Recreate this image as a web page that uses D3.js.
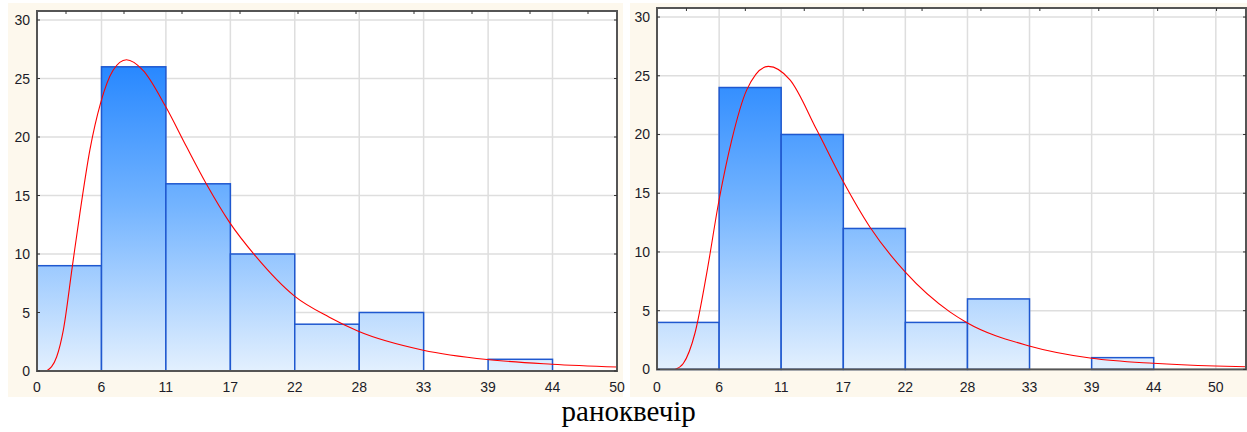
<!DOCTYPE html>
<html>
<head>
<meta charset="utf-8">
<script src="https://cdn.jsdelivr.net/npm/d3@7"></script>
<style>
  body { margin: 0; background: #fff; }
  svg { display: block; }
</style>
</head>
<body>
<svg id="chart" width="1247" height="432"></svg>
<script>
// bin edges (9 equal bins over 0..50) and their printed labels
var binEdges = [0, 5.56, 11.11, 16.67, 22.22, 27.78, 33.33, 38.89, 44.44, 50];
var edgeLabels = ["0", "6", "11", "17", "22", "28", "33", "39", "44", "50"];
var yTicks = [0, 5, 10, 15, 20, 25, 30];

// counts per bin
var morningCounts = [9, 26, 16, 10, 4, 5, 0, 1, 0];
var eveningCounts = [4, 24, 20, 12, 4, 6, 0, 1, 0];

// fitted curve as [x, y]
var morningCurve = [[0.83, 0], [1.69, 1.2], [2.27, 3.5], [3.04, 8.9], [3.7, 13.5], [4.56, 18.9],
  [5.48, 22.9], [6.56, 25.7], [7.71, 26.6], [9.14, 25.7], [11.09, 22.6], [12.87, 19.2],
  [14.59, 16.0], [16.6, 12.7], [18.9, 9.75], [22.2, 6.4], [25.2, 4.6], [27.7, 3.4],
  [33.3, 1.78], [38.8, 0.98], [44.4, 0.58], [50, 0.34]];
var eveningCurve = [[1.61, 0], [2.35, 0.5], [3.4, 3.1], [4.45, 8.2], [5.55, 14.4], [6.68, 19.5],
  [8.03, 23.8], [9.96, 25.8], [11.9, 24.65], [14.29, 20.4], [16.6, 16.1], [19.06, 12.1],
  [22.2, 8.3], [26.2, 4.9], [27.7, 4.0], [33.3, 2.0], [38.9, 0.95],
  [44.4, 0.52], [49.95, 0.29], [52.8, 0.23]];

var captionLeft = "ранок";
var captionRight = "вечір";

var svg = d3.select("#chart");
var defs = svg.append("defs");

function drawPanel(id, box, counts, curve) {
    var x = d3.scaleLinear().domain([0, box.xmax]).range([box.left, box.right]);
    var y = d3.scaleLinear().domain([0, 30.77]).range([box.bottom, box.top]);

    // cream background
    svg.append("rect")
        .attr("x", box.bgx).attr("y", 3)
        .attr("width", box.bgw).attr("height", 394)
        .attr("fill", "#fdf8ed");

    svg.append("rect")
        .attr("x", box.left).attr("y", box.top)
        .attr("width", box.right - box.left).attr("height", box.bottom - box.top)
        .attr("fill", "#fff");

    var grad = defs.append("linearGradient")
        .attr("id", "grad" + id)
        .attr("gradientUnits", "userSpaceOnUse")
        .attr("x1", 0).attr("x2", 0)
        .attr("y1", y(26)).attr("y2", y(0));
    grad.append("stop").attr("offset", 0).attr("stop-color", "#2888ff");
    grad.append("stop").attr("offset", 0.45).attr("stop-color", "#72b3ff");
    grad.append("stop").attr("offset", 1).attr("stop-color", "#e3f0fe");

    var clip = defs.append("clipPath").attr("id", "clip" + id);
    clip.append("rect")
        .attr("x", box.left).attr("y", box.top)
        .attr("width", box.right - box.left).attr("height", box.bottom - box.top);

    var g = svg.append("g");

    // grid
    g.selectAll(".hg").data(yTicks.slice(1)).enter().append("line")
        .attr("x1", box.left).attr("x2", box.right)
        .attr("y1", function(d) { return y(d); }).attr("y2", function(d) { return y(d); })
        .attr("stroke", "#dedede").attr("stroke-width", 1.5);
    g.selectAll(".vg").data(binEdges.slice(1)).enter().append("line")
        .attr("x1", function(d) { return x(d); }).attr("x2", function(d) { return x(d); })
        .attr("y1", box.top).attr("y2", box.bottom)
        .attr("stroke", "#dedede").attr("stroke-width", 1.5);

    // bars
    var bars = counts.map(function(c, i) { return {x0: binEdges[i], x1: binEdges[i + 1], n: c}; })
        .filter(function(d) { return d.n > 0; });
    g.selectAll(".bar").data(bars).enter().append("rect")
        .attr("x", function(d) { return x(d.x0); })
        .attr("width", function(d) { return x(d.x1) - x(d.x0); })
        .attr("y", function(d) { return y(d.n); })
        .attr("height", function(d) { return y(0) - y(d.n); })
        .attr("fill", "url(#grad" + id + ")")
        .attr("stroke", "#1f58cf").attr("stroke-width", 1.5);

    // fitted curve
    var line = d3.line()
        .x(function(d) { return x(d[0]); })
        .y(function(d) { return y(d[1]); })
        .curve(d3.curveMonotoneX);
    g.append("path")
        .datum(curve)
        .attr("clip-path", "url(#clip" + id + ")")
        .attr("d", line)
        .attr("fill", "none")
        .attr("stroke", "#ff0000").attr("stroke-width", 1.1);

    // frame
    g.append("rect")
        .attr("x", box.left).attr("y", box.top)
        .attr("width", box.right - box.left).attr("height", box.bottom - box.top)
        .attr("fill", "none").attr("stroke", "#555").attr("stroke-width", 2);

    // little inward ticks
    g.selectAll(".lt").data(yTicks).enter().append("line")
        .attr("x1", box.left).attr("x2", box.left + 3)
        .attr("y1", function(d) { return y(d); }).attr("y2", function(d) { return y(d); })
        .attr("stroke", "#333");
    g.selectAll(".rt").data(yTicks).enter().append("line")
        .attr("x1", box.right - 3).attr("x2", box.right)
        .attr("y1", function(d) { return y(d); }).attr("y2", function(d) { return y(d); })
        .attr("stroke", "#333");
    var topScale = d3.scaleLinear().domain([0, 10]).range([box.left, box.right]);
    g.selectAll(".tt").data(d3.range(10)).enter().append("line")
        .attr("x1", function(d) { return topScale(d + 0.5); })
        .attr("x2", function(d) { return topScale(d + 0.5); })
        .attr("y1", box.top).attr("y2", box.top + 3)
        .attr("stroke", "#333");

    // axis labels
    g.selectAll(".yl").data(yTicks).enter().append("text")
        .attr("x", box.left - 7)
        .attr("y", function(d) { return y(d) + 5; })
        .attr("text-anchor", "end")
        .attr("font-family", "Liberation Sans, Arial, sans-serif")
        .attr("font-size", 14)
        .attr("fill", "#1c1c28")
        .text(function(d) { return d; });
    g.selectAll(".xl").data(binEdges).enter().append("text")
        .attr("x", function(d) { return x(d); })
        .attr("y", 392)
        .attr("text-anchor", "middle")
        .attr("font-family", "Liberation Sans, Arial, sans-serif")
        .attr("font-size", 14)
        .attr("fill", "#1c1c28")
        .text(function(d, i) { return edgeLabels[i]; });
}

drawPanel("m", {left: 37, right: 617, top: 11, bottom: 371, xmax: 50, bgx: 8, bgw: 615}, morningCounts, morningCurve);
drawPanel("e", {left: 657, right: 1246, top: 8, bottom: 369.4, xmax: 52.7, bgx: 630, bgw: 617}, eveningCounts, eveningCurve);

// caption under both panels
svg.append("text")
    .attr("x", 633).attr("y", 421)
    .attr("text-anchor", "end")
    .attr("font-family", "Liberation Serif, Times New Roman, serif")
    .attr("font-size", 29)
    .attr("fill", "#000")
    .text(captionLeft);
svg.append("text")
    .attr("x", 633).attr("y", 421)
    .attr("text-anchor", "start")
    .attr("font-family", "Liberation Serif, Times New Roman, serif")
    .attr("font-size", 29)
    .attr("fill", "#000")
    .text(captionRight);
</script>
</body>
</html>
